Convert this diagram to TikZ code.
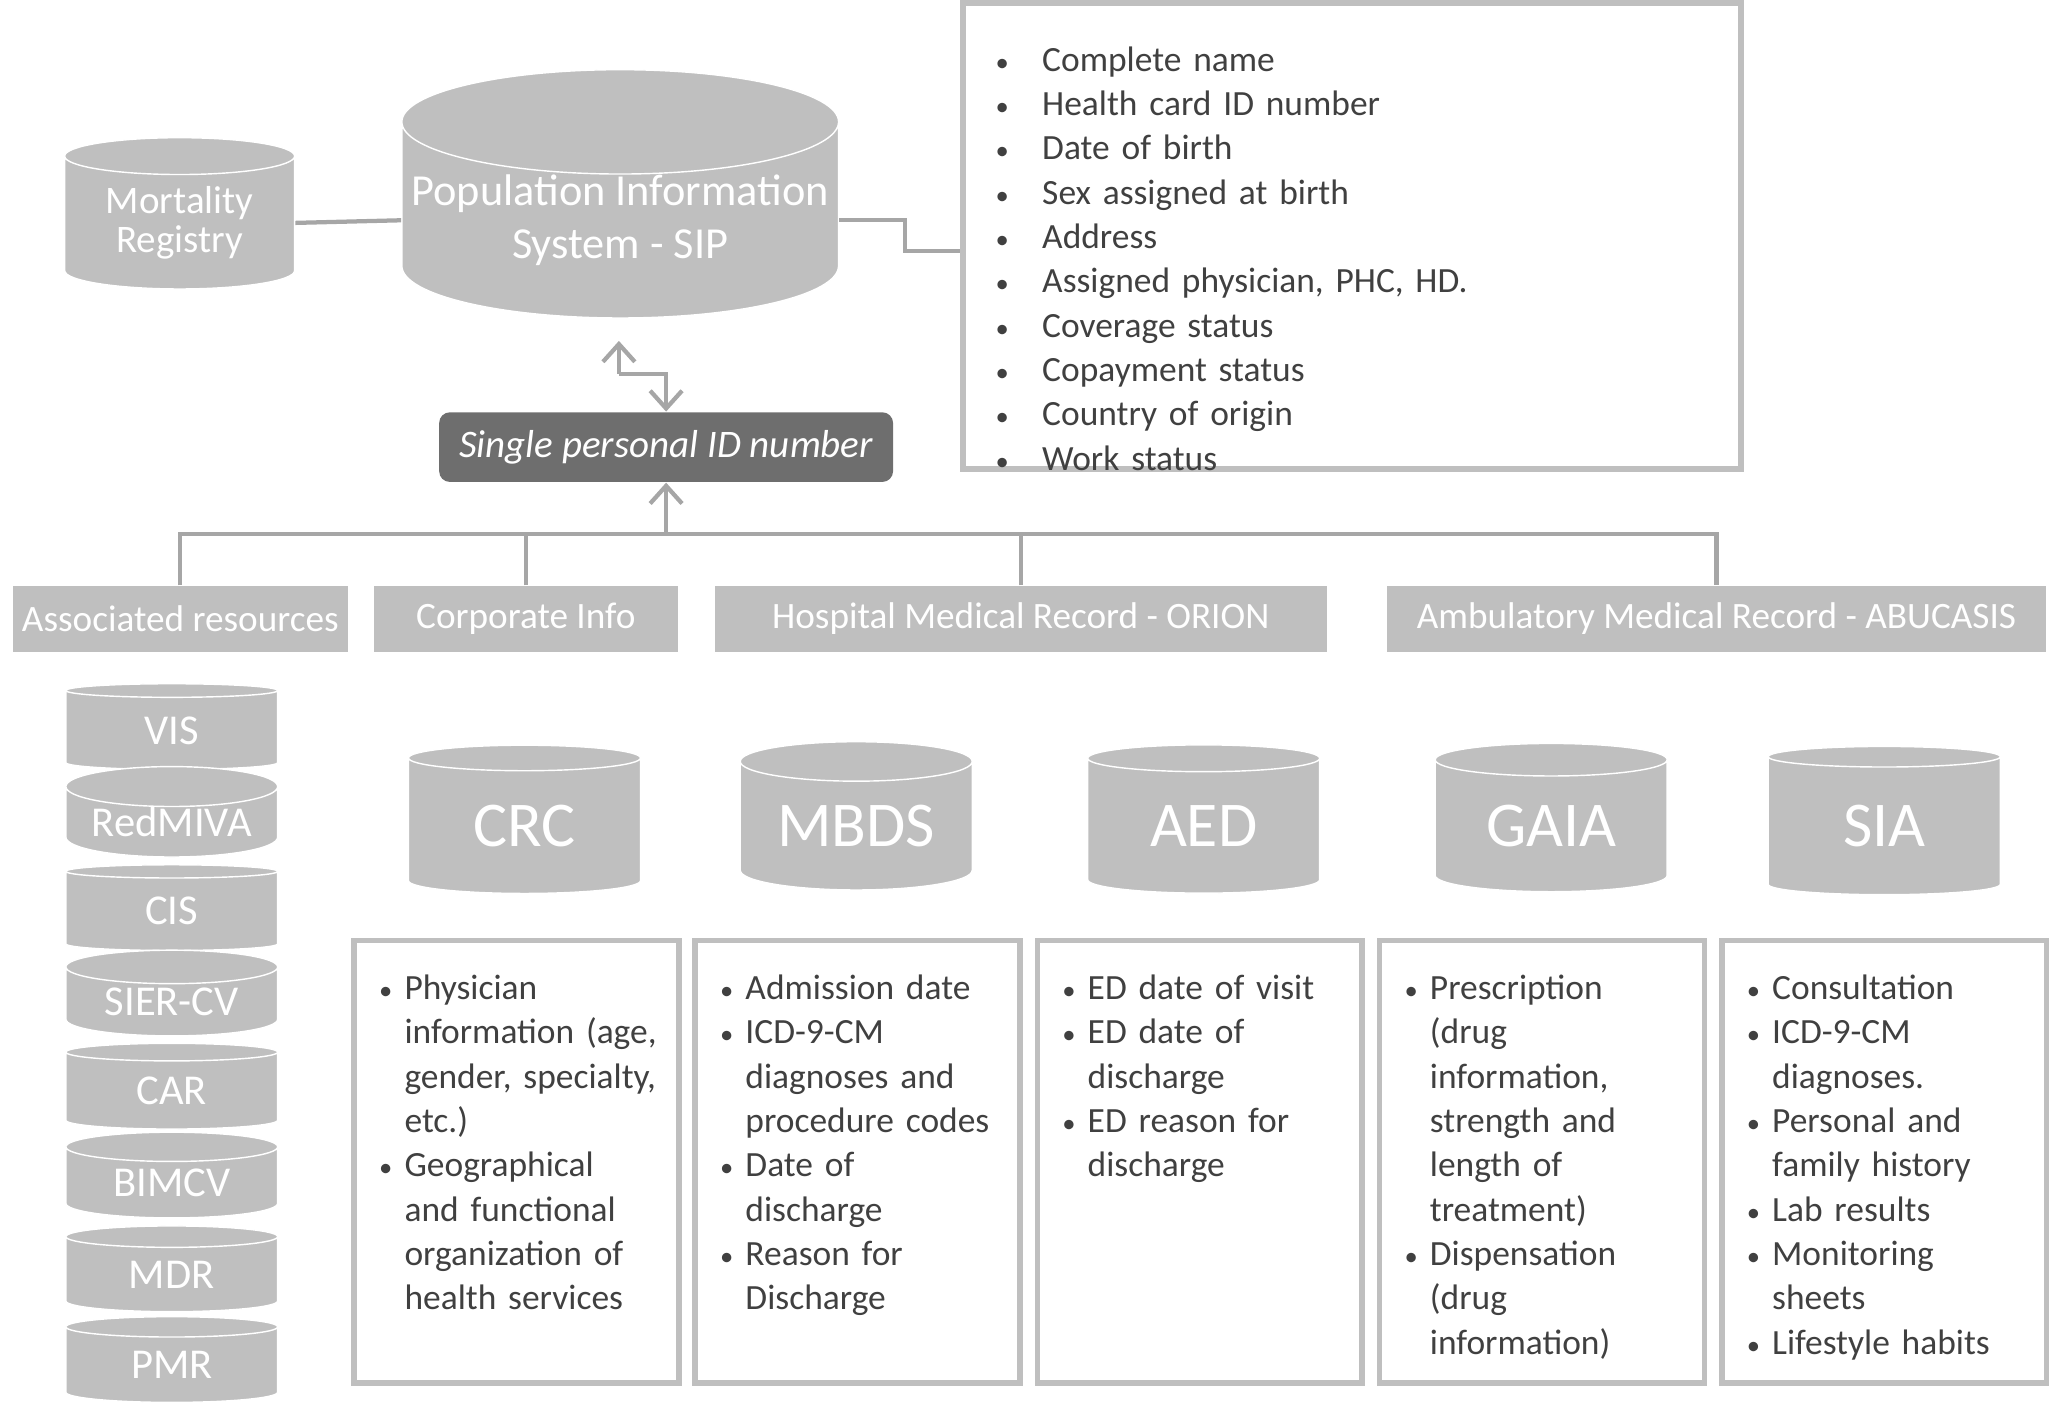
\documentclass[tikz,border=0pt]{standalone}
\usepackage{fontspec}
\setmainfont{Carlito}
\usepackage{enumitem}
\usetikzlibrary{shapes.geometric,arrows.meta}
\definecolor{boxgray}{HTML}{BFBFBF}
\definecolor{linegray}{HTML}{A6A6A6}
\definecolor{idgray}{HTML}{6E6E6E}
\definecolor{textgray}{HTML}{404040}
\tikzset{
  db/.style={cylinder, shape border rotate=90, aspect=0.25, fill=boxgray,
    draw=white, text=white, align=center, inner sep=0pt},
  head/.style={fill=boxgray, text=white, font=\fontsize{10.5}{12}\selectfont,
    minimum height=0.65cm, inner sep=0pt},
  listbox/.style={draw=boxgray, line width=1.6pt, inner sep=0pt},
  conn/.style={draw=linegray, line width=1.2pt},
}
\newcommand{\blist}[3]{\begin{itemize}[leftmargin=#1,labelsep=#2,nosep,itemsep=0pt,
  label=\scalebox{0.75}{\textbullet}]#3\end{itemize}}
\begin{document}
\begin{tikzpicture}[x=0.013cm,y=-0.013cm]
\useasboundingbox (0,0) rectangle (1568,1083);

% top part
\node[db, minimum width=2.28cm, minimum height=1.5cm, font=\fontsize{11}{11}\selectfont] (mort) at (137,170) {Mortality\\Registry};
\node[db, minimum width=4.33cm, minimum height=2.28cm, font=\fontsize{12.5}{15}\selectfont] (sip) at (473,168) {Population Information\\System - SIP};
\node[listbox, minimum width=7.71cm, minimum height=4.62cm] (data) at (1031,180) {};
\node[anchor=north west, text width=7.2cm, inner sep=0pt, text=textgray,
  font=\fontsize{10}{12.5}\selectfont] (datatxt) at (752,20) {%
  \blist{0.55cm}{0.33cm}{\item Complete name \item Health card ID number \item Date of birth
  \item Sex assigned at birth \item Address \item Assigned physician, PHC, HD.
  \item Coverage status \item Copayment status \item Country of origin \item Work status}};
\node[fill=idgray, rounded corners=3pt, text=white, minimum width=4.5cm, minimum height=0.69cm,
  font=\fontsize{11}{11}\selectfont\itshape] (pid) at (508,341) {Single personal ID number};

\draw[conn] (mort.east) -- (sip.west);
\draw[conn] (sip.east) -- ++(50,0) |- ([yshift=-0.15cm]data.west);
\coordinate (zz) at (472,285);
\draw[conn, -{Straight Barb[length=5pt,width=9pt]}] (zz) -- (472,260);
\draw[conn, -{Straight Barb[length=5pt,width=9pt]}] (zz) -- (508,285) -- (pid.north);

% headers
\node[head, minimum width=3.32cm] (assoc) at (137.5,472) {Associated resources};
\node[head, minimum width=3.02cm] (corp) at (401,472) {Corporate Info};
\node[head, minimum width=6.07cm] (orion) at (778.5,472) {Hospital Medical Record - ORION};
\node[head, minimum width=6.53cm] (abu) at (1309,472) {Ambulatory Medical Record - ABUCASIS};
\coordinate (bus) at (508,407);
\draw[conn] (assoc.north) |- (abu.north |- bus) -- (abu.north);
\draw[conn] (corp.north) -- (corp.north |- bus);
\draw[conn] (orion.north) -- (orion.north |- bus);
\draw[conn, -{Straight Barb[length=5pt,width=9pt]}] (bus) -- (pid.south);

% associated resources
\foreach \n/\y in {VIS/557, RedMIVA/627, CIS/695, SIER-CV/764, CAR/832, BIMCV/902, MDR/972, PMR/1041}
  \node[db, minimum width=2.1cm, minimum height=0.85cm, font=\fontsize{12}{12}\selectfont] (r-\n) at (131,\y) {\n};

% databases
\foreach \n/\x in {CRC/400, MBDS/653, AED/918, GAIA/1183, SIA/1437}
  \node[db, minimum width=2.3cm, minimum height=1.47cm, font=\fontsize{18}{18}\selectfont] (db-\n) at (\x,630) {\n};

% detail boxes
\foreach \n/\x in {CRC/394, MBDS/654, AED/915, GAIA/1176, SIA/1437}
  \node[listbox, minimum width=3.22cm, minimum height=4.39cm] (box-\n) at (\x,886) {};
\tikzset{detail/.style={anchor=north west, text width=2.75cm, inner sep=0pt, text=textgray,
  font=\fontsize{10}{12.5}\selectfont}}
\node[detail] (t-CRC) at ([xshift=0.28cm,yshift=-0.17cm]box-CRC.north west) {\blist{0.24cm}{0.12cm}{%
  \item Physician information (age, gender, specialty, etc.)
  \item Geographical and functional organization of health services}};
\node[detail] (t-MBDS) at ([xshift=0.28cm,yshift=-0.17cm]box-MBDS.north west) {\blist{0.24cm}{0.12cm}{%
  \item Admission date \item ICD-9-CM diagnoses and procedure codes
  \item Date of discharge \item Reason for Discharge}};
\node[detail] (t-AED) at ([xshift=0.28cm,yshift=-0.17cm]box-AED.north west) {\blist{0.24cm}{0.12cm}{%
  \item ED date of visit \item ED date of discharge \item ED reason for discharge}};
\node[detail] (t-GAIA) at ([xshift=0.28cm,yshift=-0.17cm]box-GAIA.north west) {\blist{0.24cm}{0.12cm}{%
  \item Prescription (drug information, strength and length of treatment)
  \item Dispensation (drug information)}};
\node[detail] (t-SIA) at ([xshift=0.28cm,yshift=-0.17cm]box-SIA.north west) {\blist{0.24cm}{0.12cm}{%
  \item Consultation \item ICD-9-CM diagnoses. \item Personal and family history
  \item Lab results \item Monitoring sheets \item Lifestyle habits}};
\end{tikzpicture}
\end{document}
